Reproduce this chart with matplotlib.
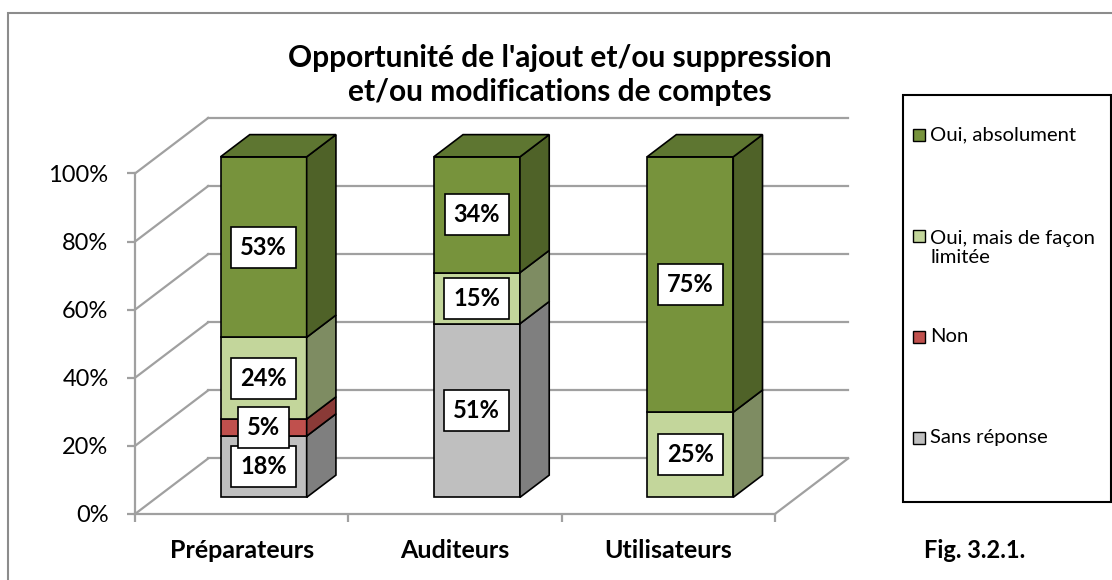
import numpy as np
import matplotlib.pyplot as plt
from matplotlib.patches import Polygon, Rectangle

# ---------- Data ----------
categories = ['Préparateurs', 'Auditeurs', 'Utilisateurs']
series = ['Sans réponse', 'Non', 'Oui, mais de façon\nlimitée', 'Oui, absolument']
sans_reponse = [18, 51, 0]
non = [5, 0, 0]
oui_limitee = [24, 15, 25]
oui_absolument = [53, 34, 75]
values = [sans_reponse, non, oui_limitee, oui_absolument]

front_colors = ['#BFBFBF', '#C0504D', '#C3D69B', '#77933C']
side_colors = ['#7F7F7F', '#8A3A37', '#7E8C62', '#4F6228']
top_colors = ['#A6A6A6', '#A64542', '#A9BB85', '#5E7631']

plt.rcParams['font.family'] = ['Lato', 'DejaVu Sans']
grid_col = '#A0A0A0'

fig = plt.figure(figsize=(11.12, 5.8), dpi=100)
ax = fig.add_axes([0.1214, 0.1138, 0.6412, 0.6828])

# depth of the 3D box (data units) and where the bars sit inside it
DX, DY = 0.343, 16.3
d0, d1 = 0.3, 0.7
w = 0.404

ax.set_xlim(-0.5, 2.5 + DX)
ax.set_ylim(0, 100 + DY)

# ---------- Walls / floor ----------
for g in range(0, 101, 20):
    ax.plot([-0.5, -0.5 + DX], [g, g + DY], color=grid_col, lw=1.6, zorder=1, clip_on=False)
    ax.plot([-0.5 + DX, 2.5 + DX], [g + DY, g + DY], color=grid_col, lw=1.6, zorder=1, clip_on=False)
ax.plot([2.5, 2.5 + DX], [0, DY], color=grid_col, lw=1.6, zorder=1, clip_on=False)

for side in ['top', 'right']:
    ax.spines[side].set_visible(False)
ax.spines['left'].set_bounds(0, 100)
ax.spines['bottom'].set_bounds(-0.5, 2.5)
for side in ['left', 'bottom']:
    ax.spines[side].set_color(grid_col)
    ax.spines[side].set_linewidth(1.6)

ax.set_yticks(range(0, 101, 20))
ax.set_yticklabels([f'{v}%' for v in range(0, 101, 20)])
ax.tick_params(axis='y', length=6, width=1.6, color=grid_col, pad=13, labelsize=17)
ax.set_xticks(np.arange(len(categories)))
ax.set_xticklabels(categories, fontweight='bold', fontsize=18)
ax.set_xticks(np.arange(-0.5, len(categories), 1), minor=True)
ax.tick_params(axis='x', which='major', length=0, pad=18)
ax.tick_params(axis='x', which='minor', length=6, width=1.6, color=grid_col)

# ---------- 3D stacked bars ----------
dd = d1 - d0
cum = np.zeros(len(categories))
tops = [max(k for k in range(len(values)) if values[k][i] > 0) for i in range(len(categories))]
for s, vals in enumerate(values):
    for i, v in enumerate(vals):
        if v <= 0:
            continue
        xc = i + d0 * DX
        b = cum[i] + d0 * DY
        t = b + v
        xl, xr = xc - w / 2, xc + w / 2
        ax.add_patch(Rectangle((xl, b), w, v, facecolor=front_colors[s],
                               edgecolor='black', lw=1.2, zorder=3))
        ax.add_patch(Polygon([(xr, b), (xr + dd * DX, b + dd * DY),
                              (xr + dd * DX, t + dd * DY), (xr, t)],
                             facecolor=side_colors[s], edgecolor='black', lw=1.2, zorder=3))
        if tops[i] == s:
            ax.add_patch(Polygon([(xl, t), (xl + dd * DX, t + dd * DY),
                                  (xr + dd * DX, t + dd * DY), (xr, t)],
                                 facecolor=top_colors[s], edgecolor='black', lw=1.2, zorder=3))
        ax.text(xc, b + v / 2, f'{v}%', ha='center', va='center', fontsize=17,
                fontweight='bold', zorder=5,
                bbox=dict(boxstyle='square,pad=0.38', facecolor='white',
                          edgecolor='black', lw=1.2))
    cum += np.array(vals)

# ---------- Title ----------
fig.text(0.5036, 1 - 75 / 580, "Opportunité de l'ajout et/ou suppression\net/ou modifications de comptes",
         ha='center', va='center', fontsize=21.5, fontweight='bold', linespacing=1.28)

# ---------- Legend ----------
fig.add_artist(Rectangle((903 / 1112, 1 - 502 / 580), 208 / 1112, 407 / 580,
                         transform=fig.transFigure, fill=False, edgecolor='black', lw=1.5))
for k, s in enumerate(reversed(range(len(series)))):
    y_first = 135 + 101 * k
    n_lines = series[s].count('\n') + 1
    fig.add_artist(Rectangle((913 / 1112, 1 - (y_first + 6) / 580), 12 / 1112, 12 / 580,
                             transform=fig.transFigure, facecolor=front_colors[s],
                             edgecolor='black', lw=1.0))
    fig.text(930 / 1112, 1 - (y_first + 12 * (n_lines - 1)) / 580, series[s],
             ha='left', va='center', fontsize=14.6, linespacing=1.2)

fig.text(975 / 1112, 1 - 550 / 580, 'Fig. 3.2.1.', ha='center', va='center',
         fontsize=17, fontweight='bold')

# outer chart frame
fig.add_artist(Rectangle((8 / 1112, -0.1), 1.2, 1.1 - 13 / 580, transform=fig.transFigure,
                         fill=False, edgecolor='#8C8C8C', lw=1.5))

plt.savefig('out.png', dpi=100)
